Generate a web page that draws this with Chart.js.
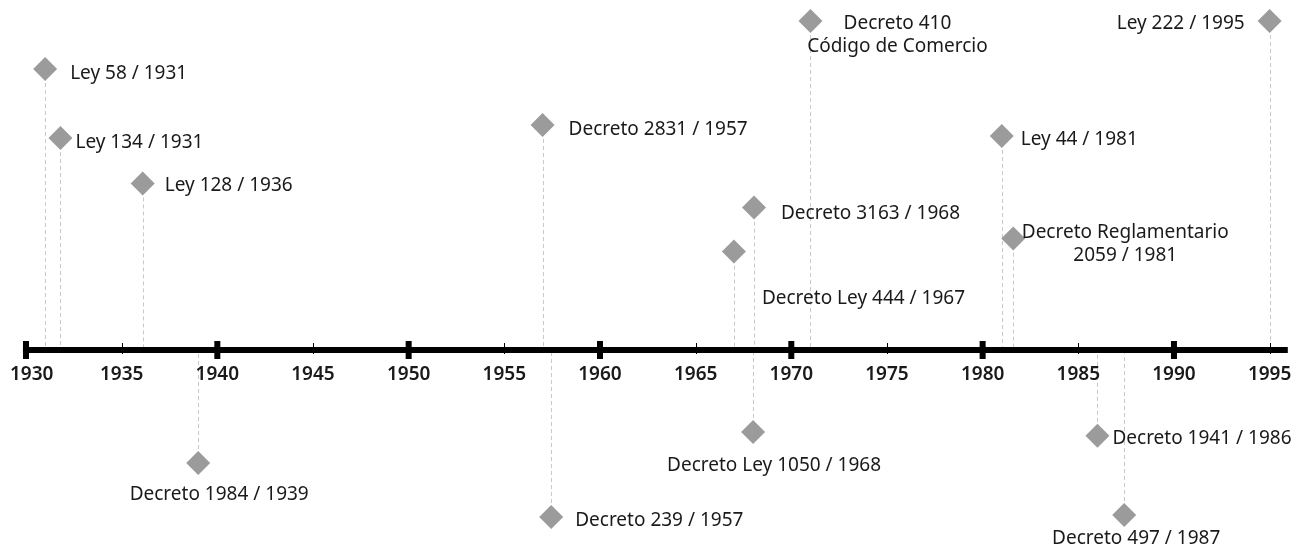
<!DOCTYPE html>
<html>
<head>
<meta charset="utf-8">
<script src="https://cdn.jsdelivr.net/npm/chart.js@4.4.1/dist/chart.umd.min.js"></script>
<style>
  html, body { margin: 0; padding: 0; background: #fff; overflow: hidden; }
  #wrap { width: 1301px; height: 549px; position: relative; }
</style>
</head>
<body>
<div id="wrap"><canvas id="timeline"></canvas></div>
<script>
// ------------------------------------------------------------
// Timeline of Colombian laws/decrees, 1930-1995.
// Markers above the axis are positive levels, below are negative.
// ------------------------------------------------------------

const EVENT_LABELS = [
  ["Ley 58 / 1931"],
  ["Ley 134 / 1931"],
  ["Ley 128 / 1936"],
  ["Decreto 1984 / 1939"],
  ["Decreto 2831 / 1957"],
  ["Decreto 239 / 1957"],
  ["Decreto Ley 444 / 1967"],
  ["Decreto 3163 / 1968"],
  ["Decreto Ley 1050 / 1968"],
  ["Decreto 410", "Código de Comercio"],
  ["Ley 44 / 1981"],
  ["Decreto Reglamentario", "2059 / 1981"],
  ["Decreto 1941 / 1986"],
  ["Decreto 497 / 1987"],
  ["Ley 222 / 1995"],
];
const EVENT_YEARS = [1931.0, 1931.8, 1936.1, 1939.0, 1957.0, 1957.45, 1967.0, 1968.05,
  1968.0, 1971.0, 1981.0, 1981.6, 1986.0, 1987.4, 1995.0];
const EVENT_LEVELS = [14.05, 10.6, 8.33, -5.65, 11.25, -8.35, 4.92, 7.12,
  -4.1, 16.45, 10.7, 5.57, -4.29, -8.25, 16.45];

const TICK_YEARS = [1930, 1935, 1940, 1945, 1950, 1955, 1960, 1965, 1970, 1975, 1980, 1985, 1990, 1995];
const MAJOR_EVERY = 10;
const AXIS_START = 1929.84;
const AXIS_END = 1995.95;

// label placement relative to its marker (px): align, dx, dy
const LABEL_PLACE = [
  { align: "left", dx: 25, dy: 3 },
  { align: "left", dx: 15, dy: 3 },
  { align: "left", dx: 22, dy: 0 },
  { align: "center", dx: 21, dy: 30 },
  { align: "left", dx: 26, dy: 3 },
  { align: "left", dx: 24, dy: 2 },
  { align: "left", dx: 28, dy: 45 },
  { align: "left", dx: 27, dy: 4 },
  { align: "center", dx: 21, dy: 32 },
  { align: "center", dx: 87, dy: 1 },
  { align: "left", dx: 19, dy: 2 },
  { align: "center", dx: 112, dy: -8 },
  { align: "left", dx: 15, dy: 1 },
  { align: "center", dx: 12, dy: 22 },
  { align: "right", dx: -25, dy: 1 },
];
const TEXT_SHIFT = 2; // visual centring of the font

const FONT = '"Noto Sans", "Open Sans", sans-serif';
const MARKER = "#9b9b9b";
const DROP = "#c9c9c9";
const INK = "#1a1a1a";

const points = EVENT_YEARS.map((x, i) => ({ x, y: EVENT_LEVELS[i] }));

// dashed drop lines from each marker to the axis
const dropLines = {
  id: "dropLines",
  beforeDatasetsDraw(chart) {
    const { ctx, scales: { x, y } } = chart;
    const y0 = y.getPixelForValue(0);
    ctx.save();
    ctx.strokeStyle = DROP;
    ctx.lineWidth = 1;
    ctx.setLineDash([4, 3]);
    points.forEach((p) => {
      const px = Math.round(x.getPixelForValue(p.x)) + 0.5;
      ctx.beginPath();
      ctx.moveTo(px, y.getPixelForValue(p.y));
      ctx.lineTo(px, y0);
      ctx.stroke();
    });
    ctx.restore();
  },
};

// the timeline axis itself: thick bar, major/minor ticks, year labels
const timeAxis = {
  id: "timeAxis",
  afterDatasetsDraw(chart) {
    const { ctx, scales: { x, y } } = chart;
    const y0 = y.getPixelForValue(0);
    ctx.save();
    ctx.fillStyle = "#000";
    const xa = x.getPixelForValue(AXIS_START);
    const xb = x.getPixelForValue(AXIS_END);
    ctx.fillRect(xa, y0 - 3, xb - xa, 6);
    TICK_YEARS.forEach((yr) => {
      const px = x.getPixelForValue(yr);
      if (yr % MAJOR_EVERY === 0) {
        ctx.fillRect(px - 3, y0 - 9, 6, 18);
      } else {
        ctx.fillRect(Math.round(px), y0 - 7, 1, 11);
      }
    });
    ctx.font = "600 19px " + FONT;
    ctx.textAlign = "center";
    ctx.textBaseline = "middle";
    ctx.fillStyle = INK;
    TICK_YEARS.forEach((yr) => {
      const px = x.getPixelForValue(yr);
      const w = ctx.measureText(String(yr)).width;
      const cx = Math.max(px, 10 + w / 2);
      ctx.fillText(String(yr), cx, y0 + 25);
    });
    ctx.restore();
  },
};

// event captions next to the markers
const captions = {
  id: "captions",
  afterDatasetsDraw(chart) {
    const { ctx, scales: { x, y } } = chart;
    ctx.save();
    ctx.font = "19px " + FONT;
    ctx.fillStyle = INK;
    ctx.textBaseline = "middle";
    EVENT_LABELS.forEach((lines, i) => {
      const place = LABEL_PLACE[i];
      const px = x.getPixelForValue(EVENT_YEARS[i]) + place.dx;
      const py = y.getPixelForValue(EVENT_LEVELS[i]) + place.dy + TEXT_SHIFT;
      ctx.textAlign = place.align;
      lines.forEach((t, k) => ctx.fillText(t, px, py + k * 22.5));
    });
    ctx.restore();
  },
};

new Chart(document.getElementById("timeline"), {
  type: "scatter",
  data: {
    datasets: [{
      data: points,
      pointStyle: "rectRot",
      pointRadius: 12,
      pointHoverRadius: 12,
      backgroundColor: MARKER,
      borderWidth: 0,
      clip: false,
    }],
  },
  options: {
    responsive: true,
    maintainAspectRatio: false,
    animation: false,
    layout: { padding: 0, autoPadding: false },
    scales: {
      x: { type: "linear", display: false, min: 1928.641, max: 1996.64 },
      y: { type: "linear", display: false, min: -9.95, max: 17.5 },
    },
    plugins: {
      legend: { display: false },
      tooltip: { enabled: false },
    },
  },
  plugins: [dropLines, timeAxis, captions],
});
</script>
</body>
</html>
